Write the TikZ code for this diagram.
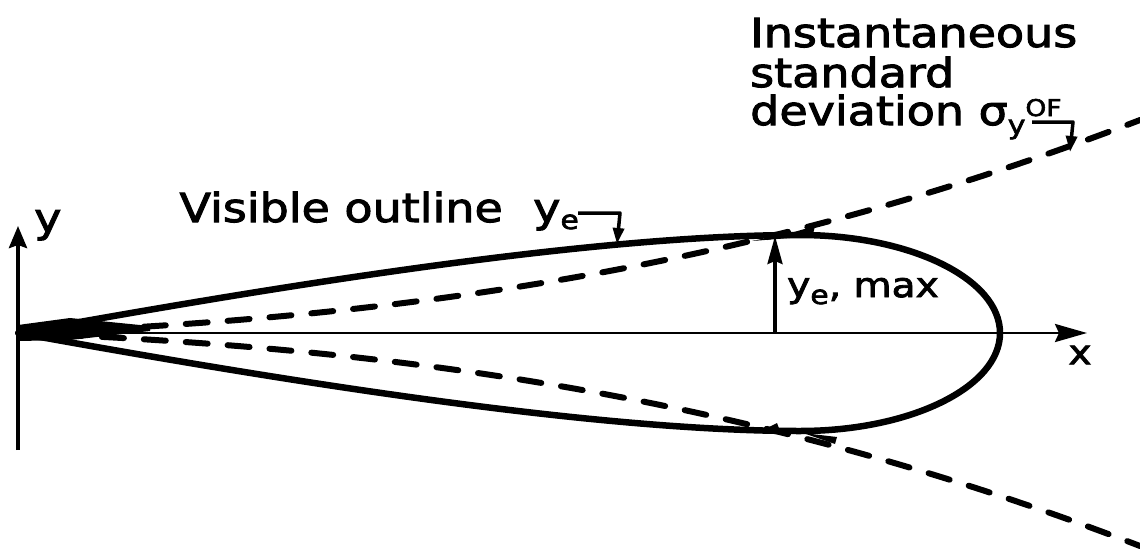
\documentclass[tikz,border=0pt]{standalone}
\usepackage{fontspec}
\setmainfont{DejaVu Sans}[FakeStretch=1.15, FakeBold=2.5]
\usetikzlibrary{arrows.meta}
\newcommand{\lowsub}[2]{\raisebox{#1}{\fontsize{26}{26}\selectfont #2}}
\begin{document}
\begin{tikzpicture}[x=1pt,y=-1pt,
  outline/.style={line width=6.5pt, line join=round},
  sigline/.style={line width=6pt, line cap=round, dash pattern=on 22pt off 20pt},
  axis/.style={line width=4pt},
  lbl/.style={inner sep=0pt, anchor=base west, font=\fontsize{40}{40}\selectfont},
  lblsmall/.style={inner sep=0pt, anchor=base west, font=\fontsize{34}{34}\selectfont},
  leader/.style={line width=3.5pt, line join=round, -{Triangle[length=16pt,width=11pt]}},
]
\useasboundingbox (0,0) rectangle (1140,549);

% coordinates
\coordinate (O) at (18,333);
\coordinate (ybot) at (18,450);
\coordinate (ytop) at (18,226);
\coordinate (xend) at (1087,333);
\coordinate (peak) at (800,235);
\coordinate (mfoot) at (775,333);
\coordinate (mtop) at (775,236);

% axes
\draw[axis, -{Stealth[length=22pt,width=18pt,inset=3pt]}] (ybot) -- (ytop);
\draw[line width=2.8pt, -{Stealth[length=32pt,width=18pt,inset=4pt]}] (O) -- (xend);

% visible outline
\draw[outline] (O) .. controls (300,282) and (600,235) .. (peak)
  arc[start angle=-90, end angle=90, x radius=200, y radius=98]
  .. controls (600,431) and (300,384) .. (O);

% standard deviation curves
\draw[sigline] (O) .. controls (400,318) and (750,270) .. (1140,120);
\draw[sigline] (O) .. controls (400,348) and (750,396) .. (1140,546);

% merging near origin and contact marks
\fill (18,325) -- (70,318) -- (150,326) -- (150,331) -- (70,340) -- (18,341) -- cycle;
\fill (752,241) -- (790,233) -- (790,238) -- cycle;
\fill (794,232) -- (815,226) -- (813,234) -- cycle;
\fill (763,430) -- (777,423) -- (780,431) -- cycle;
\fill (803,433) -- (837,437) -- (835,444) -- cycle;

% y_e,max arrow
\draw[line width=3.2pt, -{Stealth[length=28pt,width=15pt,inset=3pt]}] (mfoot) -- (mtop);

% labels
\node[lbl] (ylab) at (34,232) {y};
\node[lblsmall, anchor=center] (xlab) at (1080,355) {x};
\node[lblsmall] (yemax) at (787,297) {y\lowsub{-7pt}{e}, max};
\node[lbl, anchor=base east] (vis) at (503,222) {Visible outline};
\node[lbl] (visye) at (533,222) {y\lowsub{-7pt}{e}};

\node[lbl] (t1) at (750,47) {Instantaneous};
\node[lbl] (t2) at (750,87) {standard};
\node[lbl] (t3) at (750,125) {deviation σ\raisebox{-9pt}{\fontsize{26}{26}\selectfont y}\raisebox{9pt}{\fontsize{23}{23}\selectfont OF}};

% leaders
\coordinate (v1) at (578,213);
\coordinate (v2) at (620,213);
\coordinate (v3) at (617,244);
\draw[leader] (v1) -- (v2) -- (v3);

\coordinate (s1) at (1032,122);
\coordinate (s2) at (1073,122);
\coordinate (s3) at (1070,152);
\draw[leader] (s1) -- (s2) -- (s3);
\end{tikzpicture}
\end{document}
